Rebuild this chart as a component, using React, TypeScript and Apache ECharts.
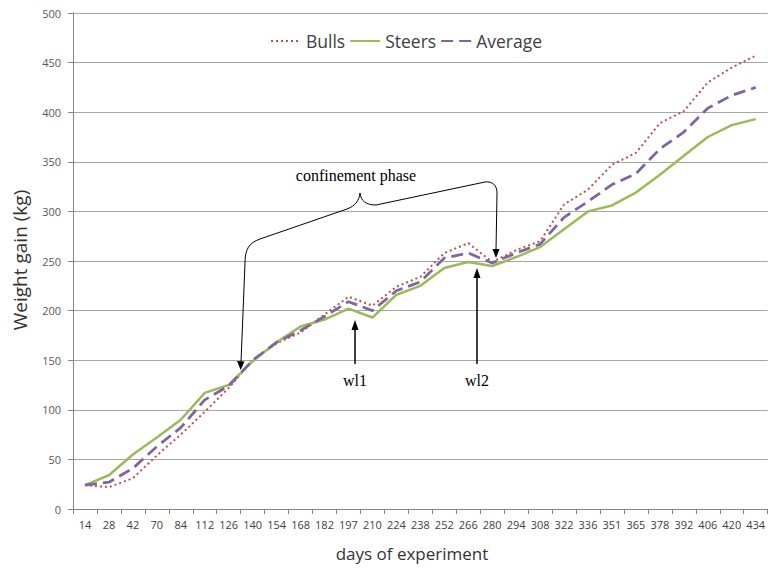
import React, { useEffect, useRef } from 'react';
import * as echarts from 'echarts';

const days = ['14', '28', '42', '70', '84', '112', '126', '140', '154', '168', '182', '197', '210', '224', '238', '252', '266', '280', '294', '308', '322', '336', '351', '365', '378', '392', '406', '420', '434'];
const bulls = [24, 22, 31, 54, 75, 98, 122, 150, 167, 178, 196, 214, 205, 224, 234, 258, 268, 249, 261, 270, 307, 322, 347, 359, 389, 401, 430, 445, 457];
const steers = [24, 34, 55, 72, 90, 117, 125, 149, 168, 184, 191, 202, 193, 216, 225, 243, 249, 245, 254, 264, 282, 300, 306, 319, 337, 356, 375, 387, 393];
const average = [24, 27, 41, 63, 82, 110, 124, 150, 168, 180, 194, 209, 200, 220, 229, 253, 258, 248, 258, 267, 294, 310, 327, 338, 363, 380, 404, 417, 425];

const bracePath =
  'M241 362 L245 263 C245 249 249 243 260 239 L347 209 C355 206 359 201 360 193 C361 201 366 205 376 205 L485 182 C492 181 497 185 497 193 L496 250';

let registered = false;

export default function App() {
  const ref = useRef<HTMLDivElement>(null);
  useEffect(() => {
    if (!ref.current) return;
    if (!registered) {
      echarts.graphic.registerShape('brace', echarts.graphic.extendPath(bracePath, {}));
      registered = true;
    }
    const chart = echarts.init(ref.current, undefined, { renderer: 'svg' });
    const font = 'Open Sans';
    chart.setOption({
      animation: false,
      backgroundColor: '#ffffff',
      grid: { left: 73, top: 13, width: 702, height: 496, containLabel: false },
      legend: {
        data: ['Bulls', 'Steers', 'Average'],
        top: 32,
        left: 270,
        itemWidth: 30,
        itemHeight: 18,
        itemGap: 4,
        padding: 0,
        itemStyle: { opacity: 0 },
        textStyle: { fontSize: 17.5, color: '#404040', fontFamily: font },
      },
      xAxis: {
        type: 'category',
        data: days,
        boundaryGap: true,
        axisLine: { lineStyle: { color: '#868686', width: 1 } },
        axisTick: { show: true, length: 5, lineStyle: { color: '#868686' } },
        axisLabel: { color: '#404040', fontSize: 11, fontFamily: font, margin: 10, interval: 0 },
        splitLine: { show: false },
      },
      yAxis: {
        type: 'value',
        min: 0,
        max: 500,
        interval: 50,
        axisLine: { show: true, lineStyle: { color: '#868686', width: 1 } },
        axisTick: { show: true, length: 5, lineStyle: { color: '#868686' } },
        axisLabel: { color: '#595959', fontSize: 11, fontFamily: font, margin: 12 },
        splitLine: { show: true, lineStyle: { color: '#a6a6a6', width: 1 } },
      },
      series: [
        {
          name: 'Bulls',
          type: 'line',
          data: bulls,
          symbol: 'none',
          lineStyle: { color: '#C0504D', width: 2, type: [2, 3] },
          itemStyle: { color: '#C0504D' },
        },
        {
          name: 'Steers',
          type: 'line',
          data: steers,
          symbol: 'none',
          lineStyle: { color: '#9BBB59', width: 2.5, type: 'solid' },
          itemStyle: { color: '#9BBB59' },
        },
        {
          name: 'Average',
          type: 'line',
          data: average,
          symbol: 'none',
          lineStyle: { color: '#8064A2', width: 2.75, type: [12, 6] },
          itemStyle: { color: '#8064A2' },
        },
      ],
      graphic: [
        {
          type: 'text',
          x: 20,
          y: 260,
          rotation: Math.PI / 2,
          style: {
            text: 'Weight gain (kg)',
            font: `19px "${font}"`,
            fill: '#333333',
            align: 'center',
            verticalAlign: 'middle',
          },
        },
        {
          type: 'text',
          x: 412,
          y: 553,
          style: {
            text: 'days of experiment',
            font: `17px "${font}"`,
            fill: '#333333',
            align: 'center',
            verticalAlign: 'middle',
          },
        },
        {
          type: 'brace',
          x: 0,
          y: 0,
          style: { stroke: '#000000', fill: 'none', lineWidth: 1 },
          z: 100,
        },
        {
          type: 'polygon',
          shape: { points: [[240.7, 370], [237, 361], [244.5, 361.5]] },
          style: { fill: '#000000' },
          z: 100,
        },
        {
          type: 'polygon',
          shape: { points: [[496, 258], [492.5, 249], [499.5, 249]] },
          style: { fill: '#000000' },
          z: 100,
        },
        {
          type: 'text',
          x: 356,
          y: 175,
          style: {
            text: 'confinement phase',
            font: '16px "Liberation Serif"',
            fill: '#000000',
            align: 'center',
            verticalAlign: 'middle',
          },
          z: 100,
        },
        {
          type: 'line',
          shape: { x1: 355, y1: 364, x2: 355, y2: 328 },
          style: { stroke: '#000000', lineWidth: 1.5 },
          z: 100,
        },
        {
          type: 'polygon',
          shape: { points: [[355, 320], [351.5, 330], [358.5, 330]] },
          style: { fill: '#000000' },
          z: 100,
        },
        {
          type: 'line',
          shape: { x1: 477, y1: 364, x2: 477, y2: 276 },
          style: { stroke: '#000000', lineWidth: 1.5 },
          z: 100,
        },
        {
          type: 'polygon',
          shape: { points: [[477, 268], [473.5, 278], [480.5, 278]] },
          style: { fill: '#000000' },
          z: 100,
        },
        {
          type: 'text',
          x: 355,
          y: 380,
          style: { text: 'wl1', font: '16px "Liberation Serif"', fill: '#000000', align: 'center', verticalAlign: 'middle' },
          z: 100,
        },
        {
          type: 'text',
          x: 477,
          y: 380,
          style: { text: 'wl2', font: '16px "Liberation Serif"', fill: '#000000', align: 'center', verticalAlign: 'middle' },
          z: 100,
        },
      ],
    });
    return () => chart.dispose();
  }, []);
  return (
    <div
      ref={ref}
      style={{ position: 'fixed', left: 0, top: 0, width: 768, height: 570, background: '#ffffff' }}
    />
  );
}
